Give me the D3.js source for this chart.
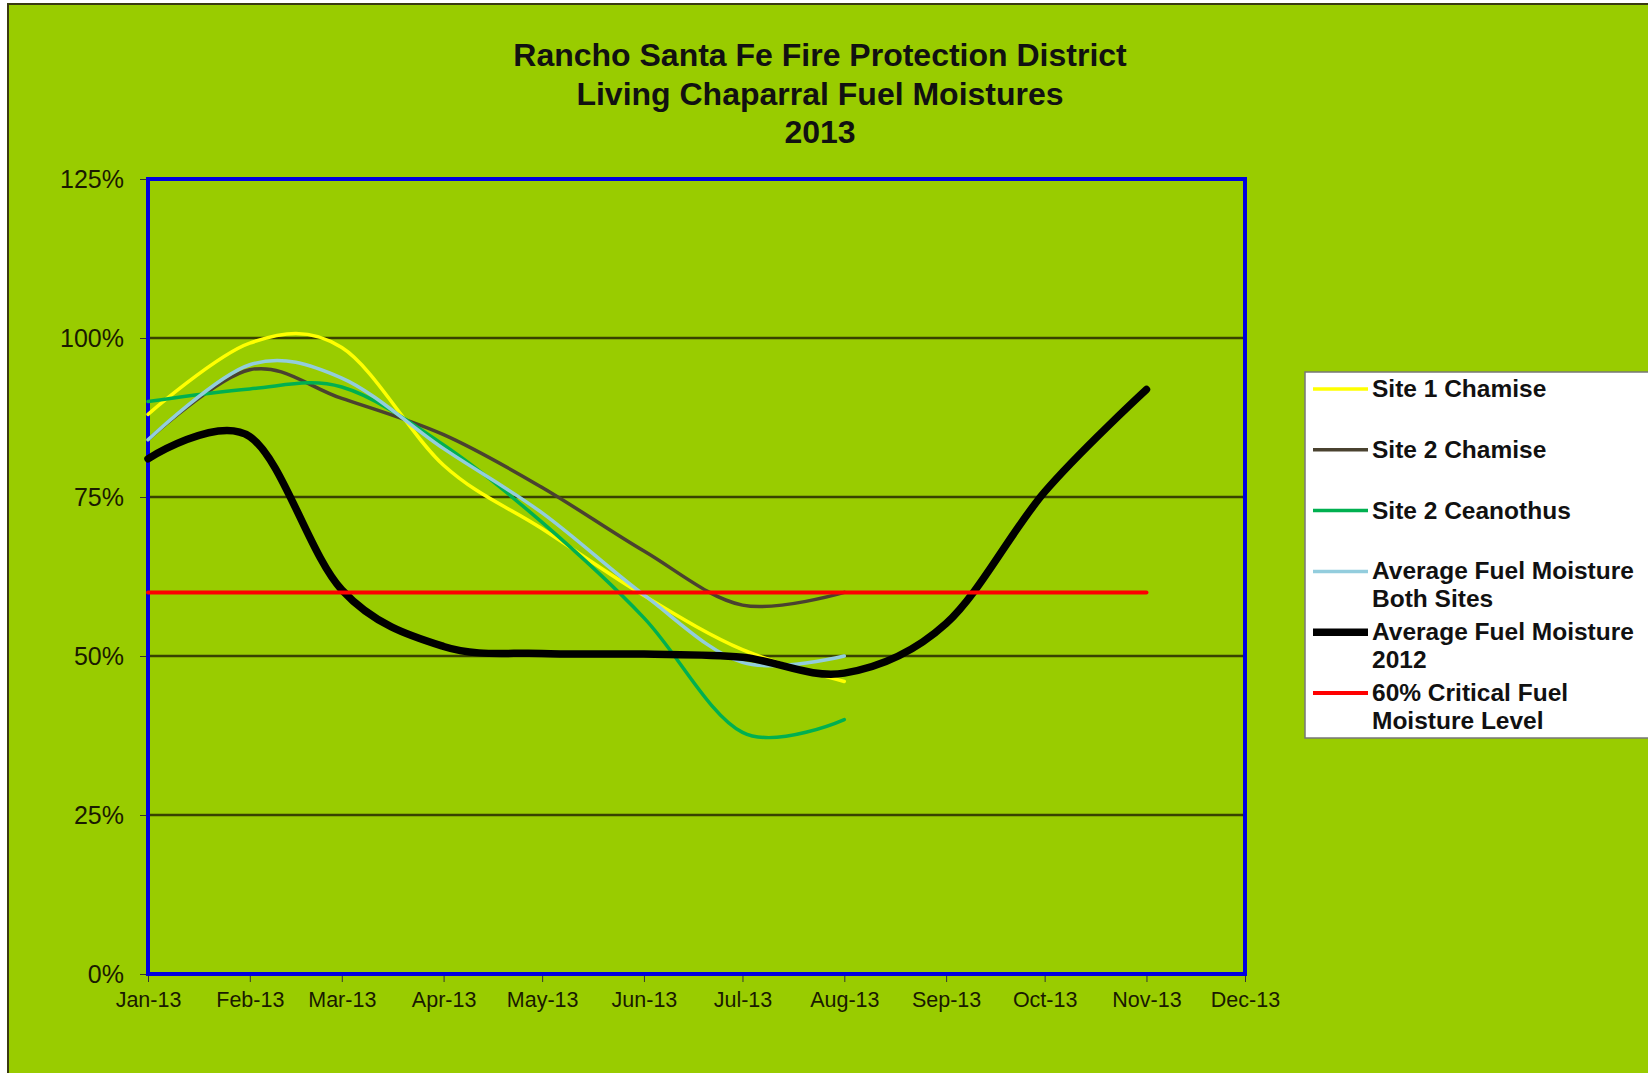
<!DOCTYPE html>
<html>
<head>
<meta charset="utf-8">
<script src="https://cdn.jsdelivr.net/npm/d3@7"></script>
<style>
  body { margin: 0; background: #fff; }
  svg { display: block; font-family: "Liberation Sans", Arial, sans-serif; }
</style>
</head>
<body>
<div id="chart"></div>
<script>
// months sampled (first of month)
const months = ["2013-01-01", "2013-02-01", "2013-03-01", "2013-04-01", "2013-05-01", "2013-06-01",
                "2013-07-01", "2013-08-01", "2013-09-01", "2013-10-01", "2013-11-01"];

const site1Chamise   = [88, 99.2, 98.5, 80, 70, 59.5, 51, 46];
const site2Chamise   = [84, 95, 90.5, 84.8, 76.5, 66.5, 58, 60];
const site2Ceanothus = [90, 92, 92.3, 83.2, 71, 56, 38, 40];
const avgBothSites   = [84, 95.8, 93.7, 82.6, 72.5, 59.6, 49, 50];
const avg2012        = [81, 84.5, 60.4, 51.5, 50.4, 50.3, 49.8, 47.3, 55.1, 75.8, 91.9];
const critical       = [60, 60, 60, 60, 60, 60, 60, 60, 60, 60, 60];

const yTicks = [0, 25, 50, 75, 100, 125];
const titleLines = ["Rancho Santa Fe Fire Protection District", "Living Chaparral Fuel Moistures", "2013"];

const series = [
    {name: ["Site 1 Chamise"], values: site1Chamise, color: "#ffff00", width: 3.5},
    {name: ["Site 2 Chamise"], values: site2Chamise, color: "#4a4230", width: 3.5},
    {name: ["Site 2 Ceanothus"], values: site2Ceanothus, color: "#00b050", width: 3.5},
    {name: ["Average Fuel Moisture", "Both Sites"], values: avgBothSites, color: "#93cddd", width: 3.5},
    {name: ["Average Fuel Moisture", "2012"], values: avg2012, color: "#000000", width: 7.5},
    {name: ["60% Critical Fuel", "Moisture Level"], values: critical, color: "#ff0000", width: 4}
];

const W = 1648, H = 1073;
const plot = {left: 148, right: 1245, top: 179, bottom: 974};
const parse = d3.timeParse("%Y-%m-%d");

const svg = d3.select("#chart").append("svg")
    .attr("width", W)
    .attr("height", H);

// chart area
svg.append("rect")
    .attr("x", 8).attr("y", 4)
    .attr("width", W).attr("height", H)
    .attr("fill", "#99cc00")
    .attr("stroke", "#3a3a10")
    .attr("stroke-width", 2);

// title
svg.append("text")
    .attr("x", 820)
    .attr("font-size", "32px")
    .attr("font-weight", "bold")
    .attr("text-anchor", "middle")
    .attr("fill", "#111")
    .selectAll("tspan")
    .data(titleLines)
    .enter()
    .append("tspan")
    .attr("x", 820)
    .attr("y", (d, i) => 66 + i * 38.5)
    .text(d => d);

const x = d3.scaleTime()
    .domain([parse("2013-01-01"), parse("2013-12-01")])
    .range([plot.left, plot.right]);

const y = d3.scaleLinear()
    .domain([0, 125])
    .range([plot.bottom, plot.top]);

// gridlines
svg.append("g")
    .selectAll("line")
    .data(yTicks.filter(d => d > 0 && d < 125))
    .enter()
    .append("line")
    .attr("x1", plot.left).attr("x2", plot.right)
    .attr("y1", d => y(d)).attr("y2", d => y(d))
    .attr("stroke", "#384200")
    .attr("stroke-width", 2.5);

// axes
const yAxis = svg.append("g")
    .attr("transform", "translate(" + plot.left + ",0)")
    .call(d3.axisLeft(y).tickValues(yTicks).tickSize(8).tickPadding(16).tickFormat(d => d + "%"));
yAxis.select(".domain").remove();
yAxis.selectAll(".tick line").attr("stroke", "#333");
yAxis.selectAll("text")
    .attr("font-size", "25px")
    .attr("fill", "#1a1a00")
    .attr("font-family", "Liberation Sans, Arial, sans-serif");

const xAxis = svg.append("g")
    .attr("transform", "translate(0," + plot.bottom + ")")
    .call(d3.axisBottom(x).ticks(d3.timeMonth.every(1)).tickSize(8).tickPadding(10)
        .tickFormat(d3.timeFormat("%b-%y")));
xAxis.select(".domain").remove();
xAxis.selectAll(".tick line").attr("stroke", "#333");
xAxis.selectAll("text")
    .attr("font-size", "21.5px")
    .attr("fill", "#1a1a00")
    .attr("font-family", "Liberation Sans, Arial, sans-serif");

// plot frame
svg.append("rect")
    .attr("x", plot.left).attr("y", plot.top)
    .attr("width", plot.right - plot.left)
    .attr("height", plot.bottom - plot.top)
    .attr("fill", "none")
    .attr("stroke", "#0000e0")
    .attr("stroke-width", 4);

// series lines, smoothed like the spreadsheet
const line = d3.line()
    .x((d, i) => x(parse(months[i])))
    .y(d => y(d))
    .curve(d3.curveCardinal.tension(0));

svg.append("g")
    .selectAll("path")
    .data(series)
    .enter()
    .append("path")
    .attr("d", d => line(d.values))
    .attr("fill", "none")
    .attr("stroke", d => d.color)
    .attr("stroke-width", d => d.width)
    .attr("stroke-linecap", "round")
    .attr("stroke-linejoin", "round");

// legend
const legend = svg.append("g");
legend.append("rect")
    .attr("x", 1305).attr("y", 372)
    .attr("width", 400).attr("height", 366)
    .attr("fill", "#fff")
    .attr("stroke", "#777")
    .attr("stroke-width", 1.5);

const item = legend.selectAll("g.item")
    .data(series)
    .enter()
    .append("g")
    .attr("class", "item")
    .attr("transform", (d, i) => "translate(0," + (389 + i * 60.8) + ")");

item.append("line")
    .attr("x1", 1313).attr("x2", 1368)
    .attr("stroke", d => d.color)
    .attr("stroke-width", d => d.width);

item.append("text")
    .attr("font-size", "24.5px")
    .attr("font-weight", "bold")
    .attr("fill", "#111")
    .selectAll("tspan")
    .data(d => d.name)
    .enter()
    .append("tspan")
    .attr("x", 1372)
    .attr("y", (d, i) => 8 + i * 28)
    .text(d => d);
</script>
</body>
</html>
